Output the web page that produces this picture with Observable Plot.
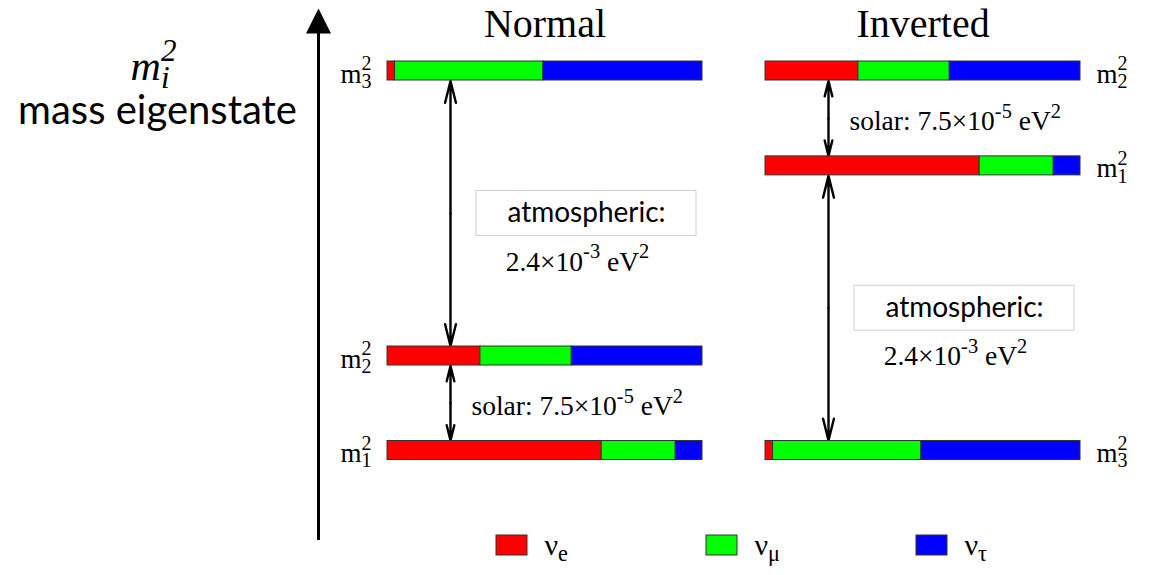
<!DOCTYPE html>
<html><head><meta charset="utf-8">
<script src="https://cdn.jsdelivr.net/npm/d3@7"></script>
<script src="https://cdn.jsdelivr.net/npm/@observablehq/plot@0.6"></script>
<style>
body{margin:0;background:#fff;}
#chart svg{display:block;}
</style></head><body><div id="chart"></div>
<script>
// ---------------- data ----------------
const hierarchies = ["Normal", "Inverted"];
const massStates = ["1", "2", "3"];
const flavors = ["e", "μ", "τ"];
const flavorColors = ["#ff0000", "#00ff00", "#0000ff"];
// flavour content of each mass state (νe, νμ, ντ)
const m1Mix = [0.68, 0.235, 0.085];
const m2Mix = [0.295, 0.29, 0.415];
const m3Mix = [0.024, 0.471, 0.505];
// relative m² level of m1, m2, m3 (0 = lightest, 1 = heaviest)
const normalLevels = [0, 0.249, 1];
const invertedLevels = [0.75, 1, 0];
const solarLabel = "solar: 7.5×10^{-5} eV^{2}";
const atmLabel = "atmospheric:";
const atmValue = "2.4×10^{-3} eV^{2}";
const axisLabelTop = "m_{i}^{2}";
const axisLabelBottom = "mass eigenstate";

// ---------------- layout ----------------
const W = 1153, H = 575;
const X0 = 387, XU = 315;      // pixel of x = 0, pixels per unit
const Y0 = 450, YU = 379.5;    // pixel of y = 0, pixels per unit
const xpx = p => (p - X0) / XU;
const ypx = p => (Y0 - p) / YU;
const offsets = {Normal: 0, Inverted: 1.2};
const barHalf = 9.5 / YU;
const arrowAt = 0.2;
const serif = "'Liberation Serif', 'Times New Roman', serif";
const sans = "Lato, 'Open Sans', sans-serif";

// ---------------- derived tables ----------------
const mixes = [m1Mix, m2Mix, m3Mix];
const levels = {Normal: normalLevels, Inverted: invertedLevels};
const segments = [], stateLabels = [], gaps = [];
for (const h of hierarchies) {
  const L = levels[h];
  massStates.forEach((s, i) => {
    let acc = 0;
    flavors.forEach((f, j) => {
      segments.push({h, flavor: f, x1: offsets[h] + acc, x2: offsets[h] + acc + mixes[i][j], level: L[i]});
      acc += mixes[i][j];
    });
    stateLabels.push({h, text: `m_{${s}}^{2}`, level: L[i]});
  });
  const near = Math.abs(L[2] - L[0]) < Math.abs(L[2] - L[1]) ? L[0] : L[1];
  gaps.push({h, kind: "solar", lo: Math.min(L[0], L[1]), hi: Math.max(L[0], L[1])});
  gaps.push({h, kind: "atm", lo: Math.min(L[2], near), hi: Math.max(L[2], near)});
}
gaps.forEach(g => { g.mid = (g.lo + g.hi) / 2; g.x = offsets[g.h] + arrowAt; });
const arrows = gaps.flatMap(g => [{x: g.x, from: g.mid, to: g.hi}, {x: g.x, from: g.mid, to: g.lo}]);
const solarGaps = gaps.filter(g => g.kind === "solar");
const atmGaps = gaps.filter(g => g.kind === "atm");

const triHead = {draw(ctx) { ctx.moveTo(0, -13); ctx.lineTo(12.5, 12); ctx.lineTo(-12.5, 12); ctx.closePath(); }};

const legendItems = flavors.map((f, i) => ({flavor: f, text: `ν_{${f}}`, x: xpx(496 + i * 210)}));

const plot = Plot.plot({
  width: W, height: H, margin: 0,
  style: {fontFamily: serif, background: "white", color: "black"},
  x: {domain: [0, 1], range: [X0, X0 + XU], axis: null},
  y: {domain: [0, 1], range: [Y0, Y0 - YU], axis: null},
  color: {domain: flavors, range: flavorColors},
  marks: [
    // vertical m² axis
    Plot.ruleX([{x: xpx(318)}], {x: "x", y1: () => ypx(540), y2: () => ypx(25), stroke: "black", strokeWidth: 3}),
    Plot.dot([{x: xpx(318), y: ypx(21)}], {x: "x", y: "y", symbol: triHead, fill: "black", stroke: null}),
    Plot.text([axisLabelTop], {x: () => xpx(153), y: () => ypx(79), text: d => d, fontSize: 42, fontStyle: "italic", lineAnchor: "bottom", fontFamily: serif}),
    Plot.text([axisLabelBottom], {x: () => xpx(157), y: () => ypx(123), text: d => d, fontSize: 40, lineAnchor: "bottom", fontFamily: sans}),
    // titles
    Plot.text(hierarchies, {x: h => offsets[h] + 0.5, y: () => ypx(36), text: d => d, fontSize: 40, lineAnchor: "bottom", fontFamily: serif}),
    // atmospheric boxes
    Plot.rect(atmGaps, {x1: g => g.x + xpx(X0 + 26), x2: g => g.x + xpx(X0 + 246), y1: g => g.mid - 22.5 / YU, y2: g => g.mid + 22.5 / YU, fill: "white", stroke: "#cfcfcf", strokeWidth: 1}),
    Plot.text(atmGaps, {x: g => g.x + xpx(X0 + 136), y: "mid", text: () => atmLabel, fontSize: 28, fontFamily: sans, lineAnchor: "middle"}),
    Plot.text(atmGaps, {x: g => g.x + xpx(X0 + 127), y: "mid", dy: 57, text: () => atmValue, fontSize: 27.5, lineAnchor: "bottom", fontFamily: serif}),
    // solar labels
    Plot.text(solarGaps, {x: "x", y: "mid", dx: 21, dy: 12, text: () => solarLabel, fontSize: 27.5, textAnchor: "start", lineAnchor: "bottom", fontFamily: serif}),
    // double arrows
    Plot.arrow(arrows, {x1: "x", x2: "x", y1: "from", y2: "to", insetEnd: 10, headLength: 14, headAngle: 28, strokeWidth: 2.4, stroke: "black", bend: 0}),
    // mass-state bars
    Plot.rect(segments, {x1: "x1", x2: "x2", y1: d => d.level - barHalf, y2: d => d.level + barHalf, fill: "flavor", stroke: "#333", strokeWidth: 1}),
    // mass-state labels
    Plot.text(stateLabels.filter(d => d.h === "Normal"), {x: d => offsets[d.h], y: "level", dx: -16, dy: 11.5, text: "text", textAnchor: "end", lineAnchor: "bottom", fontSize: 27, fontFamily: serif}),
    Plot.text(stateLabels.filter(d => d.h === "Inverted"), {x: d => offsets[d.h] + 1, y: "level", dx: 16, dy: 11.5, text: "text", textAnchor: "start", lineAnchor: "bottom", fontSize: 27, fontFamily: serif}),
    // legend
    Plot.rect(legendItems, {x1: "x", x2: d => d.x + 31 / XU, y1: () => ypx(555), y2: () => ypx(535), fill: "flavor", stroke: "#333", strokeWidth: 1}),
    Plot.text(legendItems, {x: "x", y: () => ypx(554), dx: 48, text: "text", textAnchor: "start", lineAnchor: "bottom", fontSize: 30, fontFamily: serif})
  ]
});
document.getElementById("chart").appendChild(plot);

// rich text: ^{sup} and _{sub}, stacked when adjacent
function enrich(root) {
  root.querySelectorAll("text").forEach(el => {
    const s = el.textContent;
    if (!/[\^_]\{/.test(s)) return;
    const fs = parseFloat(getComputedStyle(el).fontSize);
    const parts = [...s.matchAll(/([\^_])\{([^}]*)\}|([^\^_]+)/g)];
    el.textContent = "";
    let off = 0, prev = null;
    for (const p of parts) {
      const ts = document.createElementNS(el.namespaceURI, "tspan");
      let target = 0, kind = null;
      if (p[3] !== undefined) {
        ts.textContent = p[3];
      } else {
        kind = p[1];
        ts.textContent = p[2];
        ts.setAttribute("font-size", (fs * 0.74).toFixed(1));
        target = kind === "^" ? -0.45 * fs : 0.2 * fs;
        if (prev && prev.kind && prev.kind !== kind) ts.setAttribute("dx", (-prev.el.getComputedTextLength()).toFixed(1));
      }
      if (target !== off) ts.setAttribute("dy", (target - off).toFixed(1));
      off = target;
      el.appendChild(ts);
      prev = {kind, el: ts};
    }
  });
}
enrich(plot);
</script></body></html>
